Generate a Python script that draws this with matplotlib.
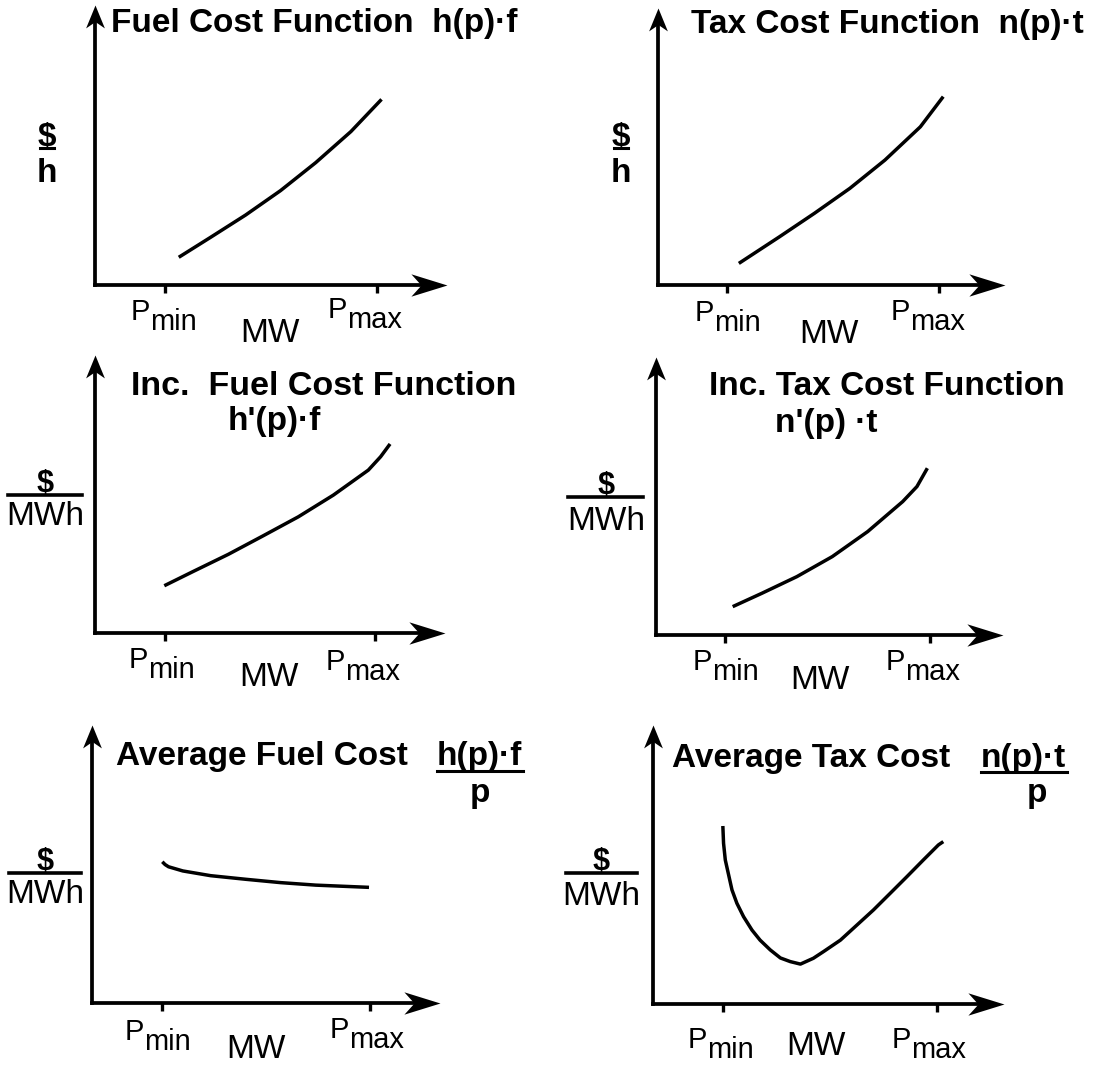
import matplotlib
matplotlib.use("Agg")
import matplotlib.pyplot as plt
from matplotlib.lines import Line2D
from matplotlib.path import Path

plt.rcParams["font.family"] = ["Liberation Sans", "DejaVu Sans"]

W, H = 1103, 1065

# curve shapes in axis units (0..100 along each arrow)
fuel_x = [23.8, 32.8, 42.8, 52.7, 62.7, 72.7, 81.4]
fuel_y = [9.9, 17.0, 25.0, 33.7, 43.7, 54.8, 66.3]
tax_x = [23.3, 35.0, 45.1, 55.3, 65.4, 75.6, 82.2]
tax_y = [7.8, 17.4, 25.9, 34.9, 45.1, 57.1, 68.0]
inc_fuel_x = [19.8, 28.0, 38.1, 48.1, 58.1, 68.1, 78.1, 81.6, 84.3]
inc_fuel_y = [17.0, 22.1, 28.3, 35.0, 41.8, 49.6, 58.6, 63.4, 68.0]
inc_tax_x = [22.1, 30.5, 40.6, 50.8, 61.0, 71.1, 75.2, 78.2]
inc_tax_y = [10.2, 15.0, 21.0, 28.2, 37.2, 48.0, 53.4, 60.0]
avg_fuel_x = [20.2, 21.0, 22.0, 26.1, 34.1, 44.2, 54.2, 64.3, 79.6]
avg_fuel_y = [50.8, 49.8, 49.0, 47.5, 45.8, 44.5, 43.3, 42.4, 41.6]
avg_tax_x = [19.9, 20.1, 20.6, 22.5, 23.9, 25.8, 28.2, 30.5, 33.4, 36.3, 39.1,
             42.0, 45.7, 48.6, 53.4, 58.1, 62.8, 67.6, 72.3, 77.0, 81.3, 82.7]
avg_tax_y = [63.8, 57.6, 51.6, 40.9, 36.1, 31.3, 26.5, 22.9, 19.4, 16.5, 15.2,
             14.3, 16.4, 18.8, 22.9, 28.3, 33.7, 39.7, 45.6, 51.6, 57.0, 58.2]

p_min = [20, 20, 20, 20, 20, 20]
p_max = [80, 81, 80, 79, 80, 81]

HEAD_RIGHT = Path([(0, 0), (-1, 0.31), (-0.72, 0), (-1, -0.31), (0, 0)],
                  [Path.MOVETO, Path.LINETO, Path.LINETO, Path.LINETO, Path.CLOSEPOLY])
HEAD_UP = Path([(0, 0), (-0.41, -1), (0, -0.72), (0.41, -1), (0, 0)],
               [Path.MOVETO, Path.LINETO, Path.LINETO, Path.LINETO, Path.CLOSEPOLY])

TITLE = 24

fig = plt.figure(figsize=(W / 100, H / 100), dpi=100)


def fx(x):
    return x / W


def fy(y):
    return 1 - y / H


def text(x, y, s, size=TITLE, weight="bold", ha="left"):
    fig.text(fx(x), fy(y), s, fontsize=size, fontweight=weight, ha=ha, va="baseline")


def hline(x0, x1, y, lw=2.2):
    fig.add_artist(Line2D([fx(x0), fx(x1)], [fy(y), fy(y)], lw=lw, color="k"))


def p_label(x, y, sub):
    text(x, y, "P", size=21, weight="normal")
    text(x + 19.5, y + 10, sub, size=21, weight="normal")


def panel(frame, xs, ys, pmin, pmax):
    # frame: origin x, origin y, arrow tip x, arrow tip y (pixels from top-left)
    x0, y0, x1, y1 = frame
    ax = fig.add_axes([fx(x0), fy(y0), (x1 - x0) / W, (y0 - y1) / H])
    ax.set_xlim(0, 100)
    ax.set_ylim(0, 100)
    ax.patch.set_visible(False)
    for side in ("top", "right"):
        ax.spines[side].set_visible(False)
    for side in ("left", "bottom"):
        ax.spines[side].set_linewidth(2.7)
    ax.spines["left"].set_bounds(0, 95)
    ax.spines["bottom"].set_bounds(0, 96)
    ax.set_xticks([pmin, pmax])
    ax.set_xticklabels([])
    ax.set_yticks([])
    ax.tick_params(axis="x", direction="out", length=6, width=2.4)
    ax.plot(100, 0, marker=HEAD_RIGHT, ms=52, color="k", mew=0, clip_on=False)
    ax.plot(0, 100, marker=HEAD_UP, ms=33, color="k", mew=0, clip_on=False)
    ax.plot(xs, ys, color="k", lw=2.5, solid_capstyle="butt", solid_joinstyle="round")
    return ax


# top row: cost functions
panel((95, 285, 447, 5), fuel_x, fuel_y, p_min[0], p_max[0])
text(111, 32, "Fuel Cost Function  h(p)\u00b7f")
text(47, 146, "$", ha="center")
hline(40, 54, 148)
text(47, 182, "h", ha="center")
p_label(131, 320, "min")
text(240, 342, "MW", weight="normal")
p_label(328, 318, "max")

panel((658, 285, 1005, 8), tax_x, tax_y, p_min[1], p_max[1])
text(691, 33, "Tax Cost Function  n(p)\u00b7t")
text(621, 146, "$", ha="center")
hline(614, 628, 148)
text(621, 182, "h", ha="center")
p_label(695, 321, "min")
text(799, 343, "MW", weight="normal")
p_label(891, 320, "max")

# middle row: incremental cost
panel((95, 633, 445, 355), inc_fuel_x, inc_fuel_y, p_min[2], p_max[2])
text(131, 395, "Inc.  Fuel Cost Function", size=24.5)
text(228, 430, "h'(p)\u00b7f")
text(45, 492, "$", size=22, ha="center")
hline(8, 82, 495, lw=2.6)
text(45, 525, "MWh", weight="normal", ha="center")
p_label(129, 668, "min")
text(239, 686, "MW", weight="normal")
p_label(326, 670, "max")

panel((656, 635, 1003, 357), inc_tax_x, inc_tax_y, p_min[3], p_max[3])
text(709, 395, "Inc. Tax Cost Function")
text(775, 432, "n'(p) \u00b7t")
text(606, 494, "$", size=22, ha="center")
hline(568, 643, 497, lw=2.6)
text(606, 530, "MWh", weight="normal", ha="center")
p_label(693, 670, "min")
text(790, 689, "MW", weight="normal")
p_label(886, 670, "max")

# bottom row: average cost
panel((92, 1003, 440, 725), avg_fuel_x, avg_fuel_y, p_min[4], p_max[4])
text(116, 765, "Average Fuel Cost")
text(437, 765, "h(p)\u00b7f")
hline(437, 523, 771)
text(480, 802, "p", ha="center")
text(45, 870, "$", size=22, ha="center")
hline(9, 81, 873, lw=2.6)
text(45, 903, "MWh", weight="normal", ha="center")
p_label(125, 1040, "min")
text(226, 1058, "MW", weight="normal")
p_label(330, 1038, "max")

panel((653, 1004, 1004, 725), avg_tax_x, avg_tax_y, p_min[5], p_max[5])
text(672, 767, "Average Tax Cost")
text(981, 767, "n(p)\u00b7t")
hline(981, 1067, 772)
text(1037, 802, "p", ha="center")
text(601, 870, "$", size=22, ha="center")
hline(566, 637, 873, lw=2.6)
text(601, 905, "MWh", weight="normal", ha="center")
p_label(688, 1048, "min")
text(786, 1055, "MW", weight="normal")
p_label(892, 1048, "max")

fig.savefig("out.png", dpi=100)
